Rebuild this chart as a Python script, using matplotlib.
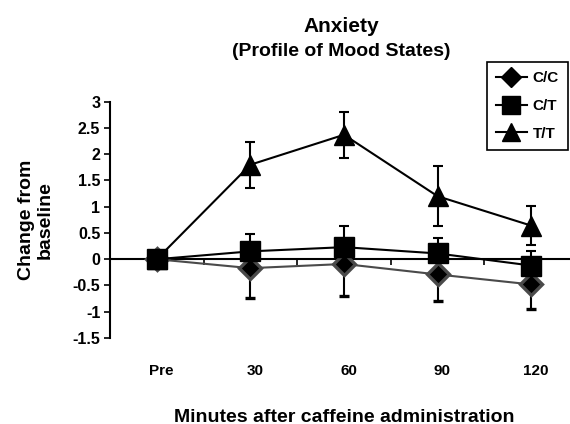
import numpy as np
import matplotlib
matplotlib.use("Agg")
from matplotlib import pyplot as plt
from matplotlib.transforms import blended_transform_factory

plt.rcParams['font.family'] = ['Liberation Sans', 'DejaVu Sans']
plt.rcParams['font.weight'] = 'bold'

times = ['Pre', '30', '60', '90', '120']
groups = ['C/C', 'C/T', 'T/T']

cc_mean = [0, -0.17, -0.09, -0.29, -0.48]
cc_err = [0, 0.56, 0.61, 0.50, 0.46]      # lower bars only
ct_mean = [0, 0.15, 0.23, 0.11, -0.12]
ct_err = [0, 0.34, 0.40, 0.30, 0.27]      # upper bars only
tt_mean = [0, 1.80, 2.37, 1.20, 0.64]
tt_err = [0, 0.44, 0.44, 0.57, 0.37]

yticks = [3, 2.5, 2, 1.5, 1, 0.5, 0, -0.5, -1, -1.5]

fig = plt.figure(figsize=(5.7, 4.24), dpi=100)
ax = fig.add_axes([110/570, 1-338/424, 468/570, (338-101.7)/424])

x = np.arange(len(times))
zero = np.zeros(len(times))

# C/C grey line, black diamonds, error bars downwards
ax.errorbar(x, cc_mean, yerr=[cc_err, zero], color='#4a4a4a', lw=1.5,
            ecolor='black', elinewidth=1.5, capsize=3.5, capthick=1.5,
            marker='D', ms=11, mfc='black', mec='#4a4a4a', mew=2.4, zorder=3)
# T/T
ax.errorbar(x, tt_mean, yerr=tt_err, color='black', lw=1.5,
            ecolor='black', elinewidth=1.5, capsize=3.5, capthick=1.5,
            marker='^', ms=15, mfc='black', mec='black', zorder=4)
# C/T error bars upwards
ax.errorbar(x, ct_mean, yerr=[zero, ct_err], color='black', lw=1.5,
            ecolor='black', elinewidth=1.5, capsize=3.5, capthick=1.5,
            marker='s', ms=15, mfc='black', mec='black', zorder=5)

ax.set_xlim(-0.5, len(times) - 0.5)
ax.set_ylim(-1.5, 3)
ax.set_yticks(yticks)
ax.set_yticklabels([('%g' % v) for v in yticks], fontsize=11.5, fontweight='bold')
ax.tick_params(axis='y', direction='out', length=4, width=1.2, pad=3)

ax.spines['top'].set_visible(False)
ax.spines['right'].set_visible(False)
ax.spines['left'].set_linewidth(1.5)
ax.spines['bottom'].set_position(('data', 0))
ax.spines['bottom'].set_linewidth(1.5)

ax.set_xticks(x)
ax.set_xticklabels([])
ax.tick_params(axis='x', which='major', length=0)
ax.set_xticks(x[:-1] + 0.5, minor=True)
ax.tick_params(axis='x', which='minor', direction='out', length=4, width=1.2)

trans = blended_transform_factory(ax.transData, fig.transFigure)
for i, lab in enumerate(times):
    ax.text(i + 0.05, 1 - 371/424, lab, transform=trans, ha='center', va='center',
            fontsize=11, fontweight='bold')

fig.text(344/570, 1 - 417/424, 'Minutes after caffeine administration',
         ha='center', va='center', fontsize=14, fontweight='bold')
fig.text(36/570, 1 - 220/424, 'Change from\nbaseline', rotation=90,
         ha='center', va='center', fontsize=14, fontweight='bold',
         linespacing=1.15)
fig.text(341/570, 1 - 27/424, 'Anxiety', ha='center', va='center',
         fontsize=15, fontweight='bold')
fig.text(341/570, 1 - 52/424, '(Profile of Mood States)', ha='center',
         va='center', fontsize=14, fontweight='bold')

h1, = ax.plot([], [], color='black', lw=1.5, marker='D', ms=10, mfc='black', mec='black')
h2, = ax.plot([], [], color='black', lw=1.5, marker='s', ms=13, mfc='black', mec='black')
h3, = ax.plot([], [], color='black', lw=1.5, marker='^', ms=13, mfc='black', mec='black')
leg = fig.legend([h1, h2, h3], groups, loc='upper left',
                 bbox_to_anchor=(487/570, 1 - 62/424), borderaxespad=0,
                 fancybox=False, edgecolor='black', framealpha=1,
                 handlelength=2.0, handletextpad=0.4, borderpad=0.6,
                 labelspacing=0.9, prop={'size': 11, 'weight': 'bold'})
leg.get_frame().set_linewidth(1.2)

fig.savefig('out.png', dpi=100)
